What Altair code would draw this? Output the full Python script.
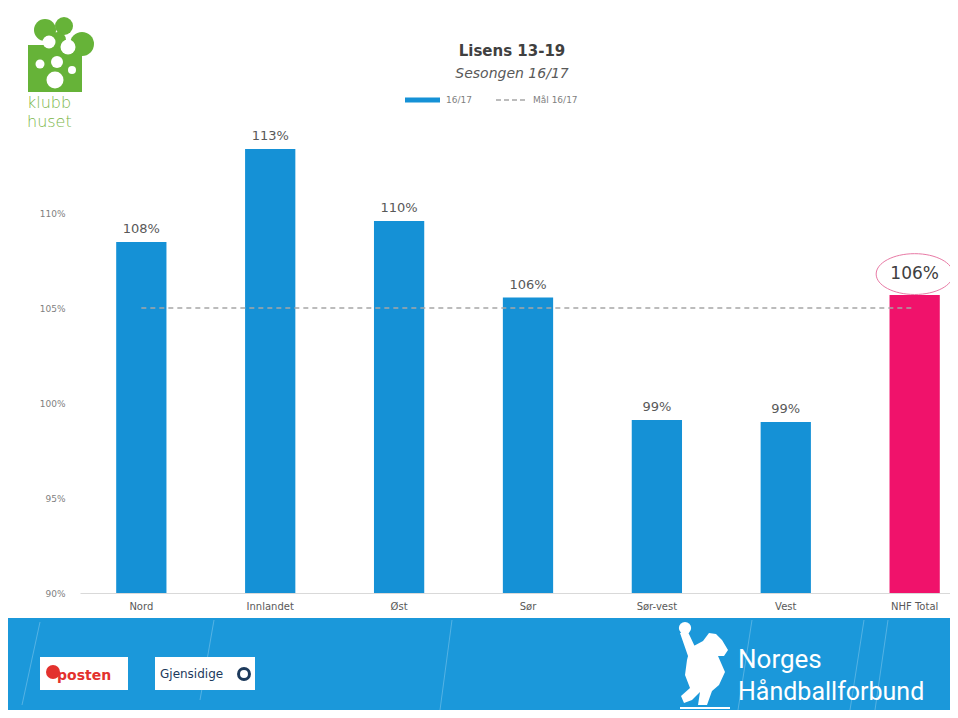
import altair as alt
import pandas as pd

# ---- data ----
regions = ["Nord", "Innlandet", "Øst", "Sør", "Sør-vest", "Vest", "NHF Total"]
values = [108.47, 113.37, 109.58, 105.55, 99.1, 99.0, 105.68]
target = [105, 105, 105, 105, 105, 105, 105]
y_ticks = [90, 95, 100, 105, 110]

df = pd.DataFrame({"region": regions, "value": values, "target": target})

BLUE = "#1591d6"
PINK = "#f0126b"
GREEN = "#66b338"
FOOT = "#1b98da"
OX, OY = 80, 118  # page position of the plot origin

one = alt.Data(values=[{}])

def px(x):
    return alt.value(x - OX)

def py(y):
    return alt.value(y - OY)

xs = alt.X("region:N", sort=regions,
           scale=alt.Scale(paddingInner=0.61, paddingOuter=0.18, align=0.78),
           axis=alt.Axis(title=None, labelAngle=0, ticks=False, domainColor="#d9d9d9",
                         labelColor="#595959", labelFontSize=10, labelPadding=8,
                         labelFont="DejaVu Sans"))
ys = alt.Y("value:Q", scale=alt.Scale(domain=[90, 115], nice=False, zero=False),
           axis=alt.Axis(title=None, values=y_ticks, grid=False, ticks=False, domain=False,
                         labelExpr="datum.value + '%'", labelColor="#7f7f7f",
                         labelFontSize=9, labelPadding=15, labelFont="DejaVu Sans"))

base = alt.Chart(df)

bars = base.mark_bar(clip=True).encode(
    x=xs, y=ys, y2=alt.Y2(datum=90),
    color=alt.condition(alt.datum.region == "NHF Total", alt.value(PINK), alt.value(BLUE)),
)

target_line = base.mark_line(color="#a6a6a6", strokeDash=[5, 4], strokeWidth=1.5).encode(
    x=alt.X("region:N", sort=regions), y=alt.Y("target:Q"))

labels = base.transform_filter(alt.datum.region != "NHF Total").transform_calculate(
    label="format(datum.value, '.0f') + '%'"
).mark_text(baseline="bottom", dy=-6, fontSize=13, color="#595959", font="DejaVu Sans").encode(
    x=alt.X("region:N", sort=regions), y="value:Q", text="label:N")

total_label = base.transform_filter(alt.datum.region == "NHF Total").transform_calculate(
    label="format(datum.value, '.0f') + '%'"
).mark_text(baseline="middle", dy=-21, fontSize=17, color="#404040", font="DejaVu Sans").encode(
    x=alt.X("region:N", sort=regions), y="value:Q", text="label:N")

ellipse = base.transform_filter(alt.datum.region == "NHF Total").mark_point(
    shape="M-1,0 A1,0.53 0 1,0 1,0 A1,0.53 0 1,0 -1,0 Z",
    size=5929, filled=False, stroke="#e87aa5", strokeWidth=1, yOffset=-21, opacity=1
).encode(x=alt.X("region:N", sort=regions), y="value:Q")

# ---- title ----
titles = [
    alt.Chart(one).mark_text(align="center", baseline="middle", fontSize=15, fontWeight="bold",
                             color="#404040", font="DejaVu Sans").encode(
        x=px(512), y=py(51), text=alt.value("Lisens 13-19")),
    alt.Chart(one).mark_text(align="center", baseline="middle", fontSize=14, fontStyle="italic",
                             color="#595959", font="DejaVu Sans").encode(
        x=px(512), y=py(74), text=alt.value("Sesongen 16/17")),
]

# ---- legend ----
leg = [
    alt.Chart(one).mark_rule(color=BLUE, strokeWidth=5).encode(
        x=px(405), x2=px(440), y=py(100)),
    alt.Chart(one).mark_text(align="left", baseline="middle", fontSize=9, color="#7f7f7f",
                             font="DejaVu Sans").encode(x=px(446), y=py(100), text=alt.value("16/17")),
    alt.Chart(one).mark_rule(color="#a6a6a6", strokeWidth=1.5, strokeDash=[5, 3]).encode(
        x=px(496), x2=px(528), y=py(100)),
    alt.Chart(one).mark_text(align="left", baseline="middle", fontSize=9, color="#7f7f7f",
                             font="DejaVu Sans").encode(x=px(533), y=py(100), text=alt.value("Mål 16/17")),
]

# ---- klubbhuset logo ----
logo = [
    alt.Chart(one).mark_rect(color=GREEN).encode(x=px(28), x2=px(82), y=py(45), y2=py(92)),
]
for (cx, cy, d, c) in [(45, 30, 22, GREEN), (64, 26, 18, GREEN), (82, 44, 24, GREEN),
                        (58, 40, 16, GREEN),
                        (49, 42, 13, "white"), (68, 47, 15, "white"), (40, 64, 9, "white"),
                        (57, 62, 12, "white"), (55, 80, 17, "white"), (72, 70, 8, "white")]:
    logo.append(alt.Chart(one).mark_point(filled=True, shape="circle", opacity=1,
                                          color=c, size=d * d).encode(x=px(cx), y=py(cy)))
logo += [
    alt.Chart(one).mark_text(align="left", baseline="alphabetic", fontSize=16, color="#7ab648",
                             font="DejaVu Sans", fontWeight=300).encode(
        x=px(27), y=py(108), text=alt.value("klubb")),
    alt.Chart(one).mark_text(align="left", baseline="alphabetic", fontSize=16, color="#7ab648",
                             font="DejaVu Sans", fontWeight=300).encode(
        x=px(27), y=py(127), text=alt.value("huset")),
]

# ---- footer ----
foot = [
    alt.Chart(one).mark_rect(color=FOOT).encode(x=px(8), x2=px(950), y=py(618), y2=py(710)),
]
for (x1, y1, x2, y2) in [(22, 705, 40, 622), (200, 700, 214, 620), (440, 710, 452, 620),
                         (738, 710, 752, 620), (850, 710, 864, 620), (875, 710, 888, 620)]:
    foot.append(alt.Chart(one).mark_rule(color="white", opacity=0.25, strokeWidth=1).encode(
        x=px(x1), x2=px(x2), y=py(y1), y2=py(y2)))

# handball player silhouette (decoration)
FX, FY, FU = 705, 668, 40.0
body_pts = [(690, 648), (703, 641), (709, 633), (716, 634), (722, 640), (728, 650), (724, 656),
            (718, 656), (725, 672), (719, 685), (712, 691), (707, 705), (698, 705), (700, 692),
            (692, 700), (684, 703), (681, 696), (690, 688), (685, 675), (687, 660)]
arm_pts = [(680, 633), (688, 632), (696, 649), (688, 656)]

def poly(pts):
    return "M" + " L".join(f"{(x - FX) / FU:.3f},{(y - FY) / FU:.3f}" for x, y in pts) + " Z"

figure_path = poly(body_pts) + " " + poly(arm_pts)
foot += [
    alt.Chart(one).mark_point(shape=figure_path, filled=True, color="white", opacity=1,
                              size=(2 * FU) ** 2).encode(x=px(FX), y=py(FY)),
    alt.Chart(one).mark_point(filled=True, shape="circle", color="white", opacity=1,
                              size=150).encode(x=px(685), y=py(628)),
    alt.Chart(one).mark_rule(color="white", strokeWidth=2).encode(
        x=px(680), x2=px(730), y=py(708)),
]

foot += [
    alt.Chart(one).mark_rect(color="white").encode(x=px(40), x2=px(128), y=py(657), y2=py(690)),
    alt.Chart(one).mark_point(filled=True, shape="circle", color="#e3312d", opacity=1,
                              size=196).encode(x=px(53), y=py(672)),
    alt.Chart(one).mark_text(align="left", baseline="middle", fontSize=14, color="#e3312d",
                             font="DejaVu Sans", fontWeight="bold").encode(
        x=px(57), y=py(676), text=alt.value("posten")),
    alt.Chart(one).mark_rect(color="white").encode(x=px(155), x2=px(255), y=py(657), y2=py(690)),
    alt.Chart(one).mark_text(align="left", baseline="middle", fontSize=12, color="#1d3a5c",
                             font="DejaVu Sans").encode(
        x=px(160), y=py(674), text=alt.value("Gjensidige")),
    alt.Chart(one).mark_point(filled=False, shape="circle", color="#1d3a5c", strokeWidth=3,
                              opacity=1, size=120).encode(x=px(244), y=py(674)),
    alt.Chart(one).mark_text(align="left", baseline="alphabetic", fontSize=26, color="white",
                             font="Roboto").encode(
        x=px(738), y=py(668), text=alt.value("Norges")),
    alt.Chart(one).mark_text(align="left", baseline="alphabetic", fontSize=25, color="white",
                             font="Roboto").encode(
        x=px(738), y=py(700), text=alt.value("Håndballforbund")),
]

chart = alt.layer(*foot, *logo, *titles, *leg, bars, target_line, labels, ellipse,
                  total_label).properties(
    width=870, height=475,
    autosize=alt.AutoSizeParams(type="none"),
    padding={"left": 72, "top": 110, "right": 0, "bottom": 117},
).configure(background="white").configure_view(strokeWidth=0, stroke="transparent")

chart.save("out.html", embed_options={"renderer": "svg", "actions": False})
